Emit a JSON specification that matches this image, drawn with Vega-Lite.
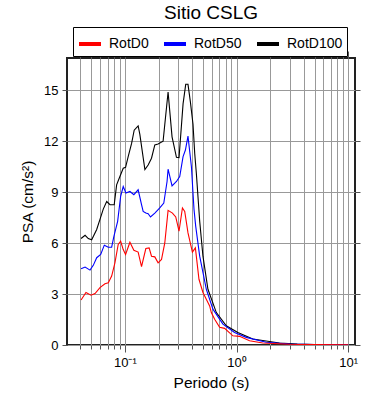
{
  "$schema": "https://vega.github.io/schema/vega-lite/v6.json",
  "autosize": "none",
  "width": 288,
  "height": 287,
  "padding": {"left": 67, "top": 58, "right": 35, "bottom": 55},
  "background": "white",
  "title": {"text": "Sitio CSLG", "fontSize": 19, "font": "Liberation Sans", "fontWeight": "normal", "anchor": "middle", "color": "black", "offset": 4},
  "config": {
    "view": {"stroke": "#222222", "strokeWidth": 2},
    "font": "Liberation Sans",
    "axis": {"labelFont": "Liberation Sans", "titleFont": "Liberation Sans", "labelColor": "black", "titleColor": "black", "titleFontWeight": "normal"}
  },
  "datasets": {
    "psa": [
      {"series": "RotD100", "T": 0.0405, "psa": 6.27},
      {"series": "RotD100", "T": 0.044, "psa": 6.46},
      {"series": "RotD100", "T": 0.047, "psa": 6.27},
      {"series": "RotD100", "T": 0.0504, "psa": 6.2},
      {"series": "RotD100", "T": 0.0559, "psa": 6.8},
      {"series": "RotD100", "T": 0.0598, "psa": 7.4},
      {"series": "RotD100", "T": 0.064, "psa": 8.0},
      {"series": "RotD100", "T": 0.0687, "psa": 8.45},
      {"series": "RotD100", "T": 0.0735, "psa": 8.26},
      {"series": "RotD100", "T": 0.0802, "psa": 8.26},
      {"series": "RotD100", "T": 0.0843, "psa": 9.43},
      {"series": "RotD100", "T": 0.0902, "psa": 9.92},
      {"series": "RotD100", "T": 0.0966, "psa": 10.41},
      {"series": "RotD100", "T": 0.1014, "psa": 10.46},
      {"series": "RotD100", "T": 0.107, "psa": 11.09},
      {"series": "RotD100", "T": 0.1148, "psa": 11.87},
      {"series": "RotD100", "T": 0.1211, "psa": 12.65},
      {"series": "RotD100", "T": 0.1314, "psa": 12.9},
      {"series": "RotD100", "T": 0.1361, "psa": 12.4},
      {"series": "RotD100", "T": 0.151, "psa": 10.33},
      {"series": "RotD100", "T": 0.1615, "psa": 10.6},
      {"series": "RotD100", "T": 0.1731, "psa": 11.0},
      {"series": "RotD100", "T": 0.1853, "psa": 11.78},
      {"series": "RotD100", "T": 0.1983, "psa": 11.83},
      {"series": "RotD100", "T": 0.2198, "psa": 12.0},
      {"series": "RotD100", "T": 0.2436, "psa": 14.9},
      {"series": "RotD100", "T": 0.2644, "psa": 12.26},
      {"series": "RotD100", "T": 0.2895, "psa": 11.05},
      {"series": "RotD100", "T": 0.3053, "psa": 11.03},
      {"series": "RotD100", "T": 0.3318, "psa": 14.2},
      {"series": "RotD100", "T": 0.3505, "psa": 15.35},
      {"series": "RotD100", "T": 0.3673, "psa": 15.35},
      {"series": "RotD100", "T": 0.3861, "psa": 14.3},
      {"series": "RotD100", "T": 0.4073, "psa": 13.0},
      {"series": "RotD100", "T": 0.4217, "psa": 11.3},
      {"series": "RotD100", "T": 0.4365, "psa": 10.1},
      {"series": "RotD100", "T": 0.4674, "psa": 7.3},
      {"series": "RotD100", "T": 0.5, "psa": 5.23},
      {"series": "RotD100", "T": 0.5542, "psa": 3.28},
      {"series": "RotD100", "T": 0.6591, "psa": 1.91},
      {"series": "RotD100", "T": 0.8091, "psa": 1.13},
      {"series": "RotD100", "T": 1.027, "psa": 0.74},
      {"series": "RotD100", "T": 1.398, "psa": 0.35},
      {"series": "RotD100", "T": 2.421, "psa": 0.12},
      {"series": "RotD100", "T": 3.5, "psa": 0.05},
      {"series": "RotD100", "T": 5, "psa": 0.03},
      {"series": "RotD100", "T": 7, "psa": 0.02},
      {"series": "RotD100", "T": 10, "psa": 0.01},

      {"series": "RotD50", "T": 0.0405, "psa": 4.49},
      {"series": "RotD50", "T": 0.044, "psa": 4.59},
      {"series": "RotD50", "T": 0.0487, "psa": 4.41},
      {"series": "RotD50", "T": 0.0521, "psa": 4.69},
      {"series": "RotD50", "T": 0.0559, "psa": 5.14},
      {"series": "RotD50", "T": 0.0607, "psa": 5.33},
      {"series": "RotD50", "T": 0.0654, "psa": 5.88},
      {"series": "RotD50", "T": 0.071, "psa": 5.76},
      {"series": "RotD50", "T": 0.0761, "psa": 5.76},
      {"series": "RotD50", "T": 0.0797, "psa": 6.4},
      {"series": "RotD50", "T": 0.0861, "psa": 7.28},
      {"series": "RotD50", "T": 0.0916, "psa": 8.75},
      {"series": "RotD50", "T": 0.0966, "psa": 9.33},
      {"series": "RotD50", "T": 0.1021, "psa": 8.95},
      {"series": "RotD50", "T": 0.1109, "psa": 9.04},
      {"series": "RotD50", "T": 0.1203, "psa": 8.85},
      {"series": "RotD50", "T": 0.1314, "psa": 9.14},
      {"series": "RotD50", "T": 0.1409, "psa": 8.26},
      {"series": "RotD50", "T": 0.1457, "psa": 7.87},
      {"series": "RotD50", "T": 0.154, "psa": 7.77},
      {"series": "RotD50", "T": 0.1615, "psa": 7.73},
      {"series": "RotD50", "T": 0.1696, "psa": 7.54},
      {"series": "RotD50", "T": 0.1853, "psa": 7.77},
      {"series": "RotD50", "T": 0.2053, "psa": 8.07},
      {"series": "RotD50", "T": 0.223, "psa": 8.36},
      {"series": "RotD50", "T": 0.2385, "psa": 9.63},
      {"series": "RotD50", "T": 0.2436, "psa": 10.35},
      {"series": "RotD50", "T": 0.2644, "psa": 9.37},
      {"series": "RotD50", "T": 0.2895, "psa": 9.63},
      {"series": "RotD50", "T": 0.3097, "psa": 9.92},
      {"series": "RotD50", "T": 0.3318, "psa": 11.09},
      {"series": "RotD50", "T": 0.3483, "psa": 11.48},
      {"series": "RotD50", "T": 0.3673, "psa": 12.3},
      {"series": "RotD50", "T": 0.3942, "psa": 10.5},
      {"series": "RotD50", "T": 0.4156, "psa": 8.0},
      {"series": "RotD50", "T": 0.4305, "psa": 7.0},
      {"series": "RotD50", "T": 0.4674, "psa": 5.23},
      {"series": "RotD50", "T": 0.5363, "psa": 3.28},
      {"series": "RotD50", "T": 0.6142, "psa": 2.11},
      {"series": "RotD50", "T": 0.7546, "psa": 1.23},
      {"series": "RotD50", "T": 0.9597, "psa": 0.74},
      {"series": "RotD50", "T": 1.221, "psa": 0.45},
      {"series": "RotD50", "T": 1.841, "psa": 0.16},
      {"series": "RotD50", "T": 3, "psa": 0.06},
      {"series": "RotD50", "T": 5, "psa": 0.03},
      {"series": "RotD50", "T": 10, "psa": 0.01},

      {"series": "RotD0", "T": 0.0405, "psa": 2.65},
      {"series": "RotD0", "T": 0.0448, "psa": 3.09},
      {"series": "RotD0", "T": 0.0497, "psa": 2.93},
      {"series": "RotD0", "T": 0.054, "psa": 3.03},
      {"series": "RotD0", "T": 0.0598, "psa": 3.38},
      {"series": "RotD0", "T": 0.0663, "psa": 3.61},
      {"series": "RotD0", "T": 0.071, "psa": 3.67},
      {"series": "RotD0", "T": 0.0761, "psa": 4.06},
      {"series": "RotD0", "T": 0.0814, "psa": 4.84},
      {"series": "RotD0", "T": 0.0871, "psa": 5.92},
      {"series": "RotD0", "T": 0.0916, "psa": 6.11},
      {"series": "RotD0", "T": 0.0966, "psa": 5.62},
      {"series": "RotD0", "T": 0.1014, "psa": 5.33},
      {"series": "RotD0", "T": 0.1109, "psa": 6.05},
      {"series": "RotD0", "T": 0.1203, "psa": 5.58},
      {"series": "RotD0", "T": 0.1314, "psa": 5.47},
      {"series": "RotD0", "T": 0.1409, "psa": 4.61},
      {"series": "RotD0", "T": 0.154, "psa": 5.68},
      {"series": "RotD0", "T": 0.1648, "psa": 5.72},
      {"series": "RotD0", "T": 0.1731, "psa": 5.23},
      {"series": "RotD0", "T": 0.1853, "psa": 5.19},
      {"series": "RotD0", "T": 0.1983, "psa": 4.84},
      {"series": "RotD0", "T": 0.2128, "psa": 5.04},
      {"series": "RotD0", "T": 0.2276, "psa": 6.01},
      {"series": "RotD0", "T": 0.2436, "psa": 7.93},
      {"series": "RotD0", "T": 0.2666, "psa": 7.77},
      {"series": "RotD0", "T": 0.2853, "psa": 7.54},
      {"series": "RotD0", "T": 0.3053, "psa": 6.7},
      {"series": "RotD0", "T": 0.3275, "psa": 8.07},
      {"series": "RotD0", "T": 0.3434, "psa": 7.87},
      {"series": "RotD0", "T": 0.3673, "psa": 6.6},
      {"series": "RotD0", "T": 0.4023, "psa": 5.47},
      {"series": "RotD0", "T": 0.4277, "psa": 5.72},
      {"series": "RotD0", "T": 0.4606, "psa": 3.87},
      {"series": "RotD0", "T": 0.5, "psa": 3.09},
      {"series": "RotD0", "T": 0.5741, "psa": 2.3},
      {"series": "RotD0", "T": 0.5943, "psa": 1.91},
      {"series": "RotD0", "T": 0.6366, "psa": 1.52},
      {"series": "RotD0", "T": 0.705, "psa": 1.04},
      {"series": "RotD0", "T": 0.7816, "psa": 0.98},
      {"series": "RotD0", "T": 0.9267, "psa": 0.54},
      {"series": "RotD0", "T": 1.064, "psa": 0.51},
      {"series": "RotD0", "T": 1.306, "psa": 0.25},
      {"series": "RotD0", "T": 1.717, "psa": 0.12},
      {"series": "RotD0", "T": 3, "psa": 0.04},
      {"series": "RotD0", "T": 5, "psa": 0.02},
      {"series": "RotD0", "T": 10, "psa": 0.01}
    ]
  },
  "data": {"name": "psa"},
  "layer": [
    {
      "mark": {"type": "line", "strokeWidth": 1.1, "clip": true},
      "encoding": {
        "x": {
          "field": "T", "type": "quantitative",
          "scale": {"type": "log", "domain": [0.0303, 11.5], "nice": false},
          "axis": {
            "orient": "bottom",
            "title": "Periodo (s)", "titleFontSize": 15.5, "titlePadding": 6,
            "values": [0.03,0.04,0.05,0.06,0.07,0.08,0.09,0.1,0.2,0.3,0.4,0.5,0.6,0.7,0.8,0.9,1,2,3,4,5,6,7,8,9,10],
            "labelExpr": "abs(datum.value-0.1)<1e-9 ? '10⁻¹' : abs(datum.value-1)<1e-9 ? '10⁰' : abs(datum.value-10)<1e-9 ? '10¹' : ''",
            "labelFontSize": 13, "labelOverlap": false, "labelBound": false, "labelPadding": 4,
            "grid": true, "gridColor": "#999999", "gridWidth": 1, "gridOpacity": 1,
            "domain": false,
            "tickColor": "#555555",
            "tickSize": {"condition": {"test": "abs(datum.value-0.1)<1e-9 || abs(datum.value-1)<1e-9 || abs(datum.value-10)<1e-9", "value": 7}, "value": 4}
          }
        },
        "y": {
          "field": "psa", "type": "quantitative",
          "scale": {"domain": [0, 16.9], "nice": false, "zero": true},
          "axis": {
            "orient": "left",
            "title": "PSA (cm/s²)", "titleFontSize": 15.5, "titlePadding": 8,
            "values": [0,3,6,9,12,15],
            "labelFontSize": 13, "labelPadding": 4,
            "grid": true, "gridColor": "#999999", "gridWidth": 1, "gridOpacity": 1,
            "domain": false, "tickColor": "#555555", "tickSize": 5
          }
        },
        "color": {
          "field": "series", "type": "nominal",
          "scale": {"domain": ["RotD0", "RotD50", "RotD100"], "range": ["#ff0000", "#0000ff", "#000000"]},
          "legend": {
            "title": null, "orient": "none", "direction": "horizontal",
            "legendX": 6, "legendY": -31,
            "strokeColor": "black", "fillColor": "white", "padding": 4,
            "symbolType": "stroke", "symbolStrokeWidth": 4, "symbolSize": 484,
            "labelFontSize": 14, "labelFont": "Liberation Sans", "labelColor": "black",
            "labelOffset": 6, "columnPadding": 7
          }
        }
      }
    },
    {
      "mark": {"type": "line", "opacity": 0},
      "encoding": {
        "x": {
          "field": "T", "type": "quantitative",
          "axis": {
            "orient": "top", "title": null, "labels": false, "grid": false, "domain": false,
            "values": [0.03,0.04,0.05,0.06,0.07,0.08,0.09,0.1,0.2,0.3,0.4,0.5,0.6,0.7,0.8,0.9,1,2,3,4,5,6,7,8,9,10],
            "tickColor": "#555555",
            "tickSize": {"condition": {"test": "abs(datum.value-0.1)<1e-9 || abs(datum.value-1)<1e-9 || abs(datum.value-10)<1e-9", "value": 7}, "value": 4}
          }
        },
        "y": {
          "field": "psa", "type": "quantitative",
          "axis": {"orient": "right", "title": null, "labels": false, "grid": false, "domain": false, "values": [0,3,6,9,12,15], "tickColor": "#555555", "tickSize": 5}
        },
        "detail": {"field": "series"}
      }
    }
  ],
  "resolve": {"axis": {"x": "independent", "y": "independent"}}
}
